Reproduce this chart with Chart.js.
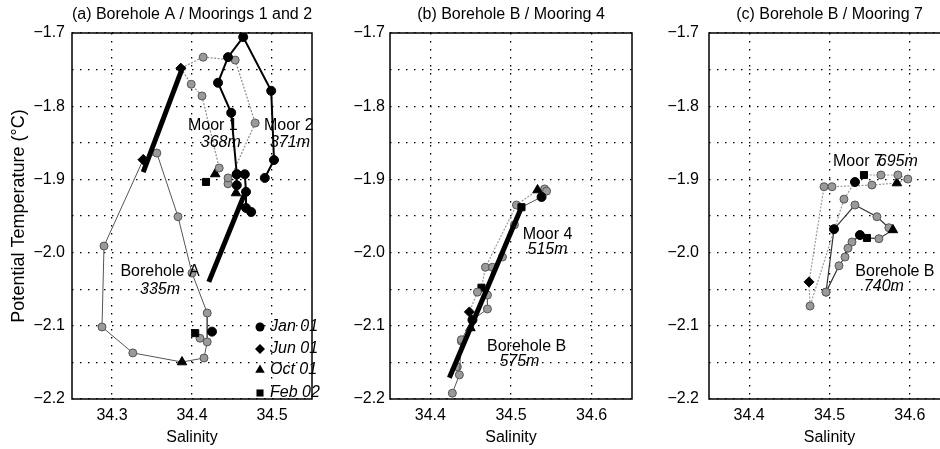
<!DOCTYPE html>
<html lang="en">
<head>
<meta charset="UTF-8">
<title>Borehole / Mooring T-S</title>
<script src="https://cdn.jsdelivr.net/npm/chart.js"></script>
<style>
  html, body { margin: 0; padding: 0; background: #fff; width: 940px; height: 449px; overflow: hidden; position: relative; }
  canvas { position: absolute; top: 0; }
</style>
</head>
<body>
<canvas id="chartA" width="330" height="449" style="left:0px"></canvas>
<canvas id="chartB" width="320" height="449" style="left:330px"></canvas>
<canvas id="chartC" width="310" height="449" style="left:650px"></canvas>

<script>
// axis ticks
const yTicks = [-1.7, -1.75, -1.8, -1.85, -1.9, -1.95, -2.0, -2.05, -2.1, -2.15, -2.2];
const yLabels = ['\u22121.7', '', '\u22121.8', '', '\u22121.9', '', '\u22122.0', '', '\u22122.1', '', '\u22122.2'];
const xTicksA = [34.3, 34.4, 34.5];
const xLabelsA = ['34.3', '34.4', '34.5'];
const xTicksBC = [34.4, 34.5, 34.6];
const xLabelsBC = ['34.4', '34.5', '34.6'];

// marker codes: g = gray sample, k = black circle (Jan 01), d = Jun 01, t = Oct 01, s = Feb 02

// (a) Borehole A, 335m
const bhA_S = [34.339, 34.356, 34.3825, 34.400, 34.419, 34.419, 34.415, 34.3875, 34.326, 34.2875, 34.290, 34.339];
const bhA_T = [-1.873, -1.864, -1.951, -2.028, -2.0825, -2.122, -2.144, -2.1495, -2.137, -2.1016, -1.991, -1.873];
const bhA_M = ['d', 'g', 'g', 'g', 'g', 'g', 'g', 't', 'g', 'g', 'g', 'd'];
const bhAx_S = [34.410, 34.425, 34.404];
const bhAx_T = [-2.117, -2.108, -2.110];
const bhAx_M = ['g', 'k', 's'];
// (a) Mooring 1, 368m
const moor1_S = [34.4175, 34.429, 34.434, 34.4125, 34.399, 34.386, 34.414, 34.454, 34.479, 34.445, 34.445];
const moor1_T = [-1.9035, -1.8926, -1.8844, -1.786, -1.770, -1.748, -1.733, -1.737, -1.823, -1.906, -1.898];
const moor1_M = ['s', 't', 'g', 'g', 'g', 'd', 'g', 'g', 'g', 'g', 'g'];
// (a) Mooring 2, 371m
const moor2a_S = [34.491, 34.5025, 34.499, 34.464, 34.445, 34.4325, 34.449, 34.456, 34.456, 34.455];
const moor2a_T = [-1.898, -1.8735, -1.779, -1.7055, -1.733, -1.768, -1.809, -1.893, -1.908, -1.9186];
const moor2a_M = ['k', 'k', 'k', 'k', 'k', 'k', 'k', 'k', 'k', 't'];
const moor2b_S = [34.456, 34.466, 34.4675, 34.4675, 34.474];
const moor2b_T = [-1.893, -1.893, -1.917, -1.939, -1.9445];
const moor2b_M = ['k', 'k', 'k', 'k', 'k'];
// (a) thick lines
const thickA1_S = [34.339, 34.389];
const thickA1_T = [-1.890, -1.745];
const thickA2_S = [34.421, 34.4675];
const thickA2_T = [-2.040, -1.915];

// (b) Borehole B, 575m
const bhB_S = [34.5441, 34.5379, 34.513, 34.5043, 34.4894, 34.477, 34.4708, 34.4708, 34.4522, 34.4385, 34.436, 34.4273];
const bhB_T = [-1.916, -1.924, -1.938, -1.962, -2.006, -2.020, -2.058, -2.077, -2.092, -2.119, -2.167, -2.192];
const bhB_M = ['g', 'k', 's', 'g', 'g', 'g', 'g', 'g', 'k', 'g', 'g', 'g'];
// (b) Mooring 4, 515m
const moor4_S = [34.5416, 34.5329, 34.5068, 34.4683, 34.4634, 34.4584, 34.4484, 34.4497, 34.4385, 34.4335];
const moor4_T = [-1.913, -1.9145, -1.935, -2.020, -2.048, -2.054, -2.081, -2.103, -2.121, -2.156];
const moor4_M = ['g', 't', 'g', 'g', 's', 'g', 'd', 't', 'g', 'g'];
const thickB_S = [34.4236, 34.513];
const thickB_T = [-2.171, -1.938];

// (c) Mooring 7, 695m
const moor7_S = [34.5317, 34.518, 34.4758, 34.4745, 34.4932, 34.5031, 34.5528, 34.5839, 34.5975, 34.5851, 34.564, 34.5429];
const moor7_T = [-1.9036, -1.927, -2.073, -2.040, -1.910, -1.910, -1.9077, -1.905, -1.8995, -1.894, -1.894, -1.894];
const moor7_M = ['k', 'g', 'g', 'd', 'g', 'g', 'g', 't', 'g', 'g', 'g', 's'];
// (c) Borehole B, 740m
const bhC_S = [34.4957, 34.5056, 34.5317, 34.559, 34.5739, 34.5789, 34.5615, 34.5466, 34.5379, 34.528, 34.523, 34.5193, 34.5118, 34.4957];
const bhC_T = [-2.054, -1.968, -1.935, -1.951, -1.966, -1.969, -1.981, -1.980, -1.976, -1.9855, -1.994, -2.006, -2.018, -2.054];
const bhC_M = ['g', 'k', 'g', 'g', 'g', 't', 'g', 's', 'k', 'g', 'g', 'g', 'g', 'g'];

const FONT = '"Liberation Sans", Arial, Helvetica, sans-serif';
Chart.defaults.font.family = FONT;
Chart.defaults.color = '#000';

const MARK = {
  g: { style: 'circle', r: 4, bg: '#9a9a9a', bd: '#555' },
  k: { style: 'circle', r: 4.5, bg: '#000', bd: '#000' },
  d: { style: 'rectRot', r: 5, bg: '#000', bd: '#000' },
  t: { style: 'triangle', r: 5.5, bg: '#000', bd: '#000' },
  s: { style: 'rect', r: 5, bg: '#000', bd: '#000' }
};
const mk = (M, c) => MARK[M[c.dataIndex]] || MARK.g;

function series(S, T, M, color, width, dash, noLine) {
  return {
    data: S.map((s, i) => ({ x: s, y: T[i] })),
    showLine: !noLine,
    borderColor: color,
    borderWidth: width,
    borderDash: dash || [],
    pointStyle: c => mk(M, c).style,
    pointRadius: c => mk(M, c).r,
    pointBackgroundColor: c => mk(M, c).bg,
    pointBorderColor: c => mk(M, c).bd,
    pointBorderWidth: 1,
    tension: 0
  };
}

function thick(S, T) {
  return {
    data: S.map((s, i) => ({ x: s, y: T[i] })),
    showLine: true, borderColor: '#000', borderWidth: 5, pointRadius: 0, borderCapStyle: 'butt'
  };
}

function overlay(title, notes, legend) {
  return {
    id: 'overlay',
    afterDraw(chart) {
      const { ctx, chartArea: a, scales: { x, y } } = chart;
      ctx.save();
      ctx.strokeStyle = '#000';
      ctx.lineWidth = 1.5;
      ctx.strokeRect(a.left, a.top, a.right - a.left, a.bottom - a.top);
      ctx.fillStyle = '#000';
      ctx.textAlign = 'center';
      ctx.textBaseline = 'middle';
      ctx.font = '16px ' + FONT;
      ctx.fillText(title, (a.left + a.right) / 2, 15);
      notes.forEach(n => {
        ctx.font = (n.italic ? 'italic ' : '') + '16px ' + FONT;
        ctx.fillText(n.text, x.getPixelForValue(n.s), y.getPixelForValue(n.t));
      });
      if (legend) {
        legend.items.forEach(it => {
          const m = MARK[it.mark];
          const py = y.getPixelForValue(it.t);
          ctx.fillStyle = '#000';
          Chart.helpers.drawPoint(ctx, { pointStyle: m.style, radius: m.r, borderWidth: 0, rotation: 0 },
            x.getPixelForValue(legend.markS), py);
          ctx.font = 'italic 16px ' + FONT;
          ctx.textAlign = 'left';
          ctx.fillText(it.text, x.getPixelForValue(legend.textS), py);
        });
      }
      ctx.restore();
    }
  };
}

function makeChart(id, o) {
  new Chart(document.getElementById(id), {
    type: 'scatter',
    data: { datasets: o.datasets },
    options: {
      responsive: false,
      animation: false,
      layout: { padding: { left: 0, right: o.padRight, top: 33, bottom: 0 } },
      plugins: { legend: { display: false }, tooltip: { enabled: false } },
      scales: {
        x: {
          type: 'linear', min: o.xMin, max: o.xMax,
          afterBuildTicks: ax => { ax.ticks = o.xTicks.map(v => ({ value: v })); },
          afterFit: ax => { ax.height = 50; },
          grid: { color: '#000', lineWidth: 1.3, drawTicks: false },
          border: { display: false, dash: [1.5, 6.5] },
          ticks: {
            padding: 7, font: { size: 16 }, maxRotation: 0, autoSkip: false,
            callback: v => o.xLabels[o.xTicks.findIndex(t => Math.abs(t - v) < 1e-6)]
          },
          title: { display: true, text: 'Salinity', font: { size: 16 }, padding: { top: 0, bottom: 2 } }
        },
        y: {
          type: 'linear', min: -2.2, max: -1.7,
          afterBuildTicks: ax => { ax.ticks = yTicks.map(v => ({ value: v })); },
          afterFit: ax => { ax.width = o.yW; },
          grid: { color: '#000', lineWidth: 1.3, drawTicks: false },
          border: { display: false, dash: [1.5, 6.5] },
          ticks: {
            padding: o.yPad, font: { size: 16 }, autoSkip: false,
            callback: v => yLabels[yTicks.findIndex(t => Math.abs(t - v) < 1e-6)]
          },
          title: { display: !!o.yTitle, text: o.yTitle || '', font: { size: 18 }, padding: { top: 8, bottom: 0 } }
        }
      }
    },
    plugins: [overlay(o.title, o.notes, o.legend)]
  });
}

makeChart('chartA', {
  xMin: 34.25, xMax: 34.55, xTicks: xTicksA, xLabels: xLabelsA,
  yW: 72, yPad: 7, padRight: 18,
  yTitle: 'Potential Temperature (\u00B0C)',
  title: '(a) Borehole A / Moorings 1 and 2',
  datasets: [
    thick(thickA1_S, thickA1_T),
    thick(thickA2_S, thickA2_T),
    series(moor2a_S, moor2a_T, moor2a_M, '#000', 2),
    series(moor2b_S, moor2b_T, moor2b_M, '#000', 2),
    series(bhAx_S, bhAx_T, bhAx_M, '#555', 1, null, true),
    series(moor1_S, moor1_T, moor1_M, '#8c8c8c', 1.2, [2, 1.5]),
    series(bhA_S, bhA_T, bhA_M, '#555', 1)
  ],
  notes: [
    { text: 'Moor 1', s: 34.426, t: -1.826 },
    { text: '368m', s: 34.436, t: -1.850, italic: true },
    { text: 'Moor 2', s: 34.521, t: -1.826 },
    { text: '371m', s: 34.5225, t: -1.850, italic: true },
    { text: 'Borehole A', s: 34.36, t: -2.0265 },
    { text: '335m', s: 34.36, t: -2.051, italic: true }
  ],
  legend: {
    markS: 34.485, textS: 34.4975,
    items: [
      { mark: 'k', text: 'Jan 01', t: -2.1016 },
      { mark: 'd', text: 'Jun 01', t: -2.1317 },
      { mark: 't', text: 'Oct 01', t: -2.1604 },
      { mark: 's', text: 'Feb 02', t: -2.1918 }
    ]
  }
});

makeChart('chartB', {
  xMin: 34.35, xMax: 34.65, xTicks: xTicksBC, xLabels: xLabelsBC,
  yW: 60, yPad: 5, padRight: 18,
  title: '(b) Borehole B / Mooring 4',
  datasets: [
    thick(thickB_S, thickB_T),
    series(bhB_S, bhB_T, bhB_M, '#555', 1),
    series(moor4_S, moor4_T, moor4_M, '#9a9a9a', 1.2, [2, 1.5])
  ],
  notes: [
    { text: 'Moor 4', s: 34.5453, t: -1.976 },
    { text: '515m', s: 34.5453, t: -1.9965, italic: true },
    { text: 'Borehole B', s: 34.5193, t: -2.129 },
    { text: '575m', s: 34.5104, t: -2.149, italic: true }
  ]
});

makeChart('chartC', {
  xMin: 34.35, xMax: 34.65, xTicks: xTicksBC, xLabels: xLabelsBC,
  yW: 59, yPad: 10, padRight: 10,
  title: '(c) Borehole B / Mooring 7',
  datasets: [
    series(bhC_S, bhC_T, bhC_M, '#333', 1.2),
    series(moor7_S, moor7_T, moor7_M, '#9a9a9a', 1.2, [2, 1.5])
  ],
  notes: [
    { text: 'Moor 7', s: 34.5354, t: -1.876 },
    { text: '695m', s: 34.585, t: -1.876, italic: true },
    { text: 'Borehole B', s: 34.5814, t: -2.0265 },
    { text: '740m', s: 34.5677, t: -2.047, italic: true }
  ]
});
</script>
</body>
</html>
